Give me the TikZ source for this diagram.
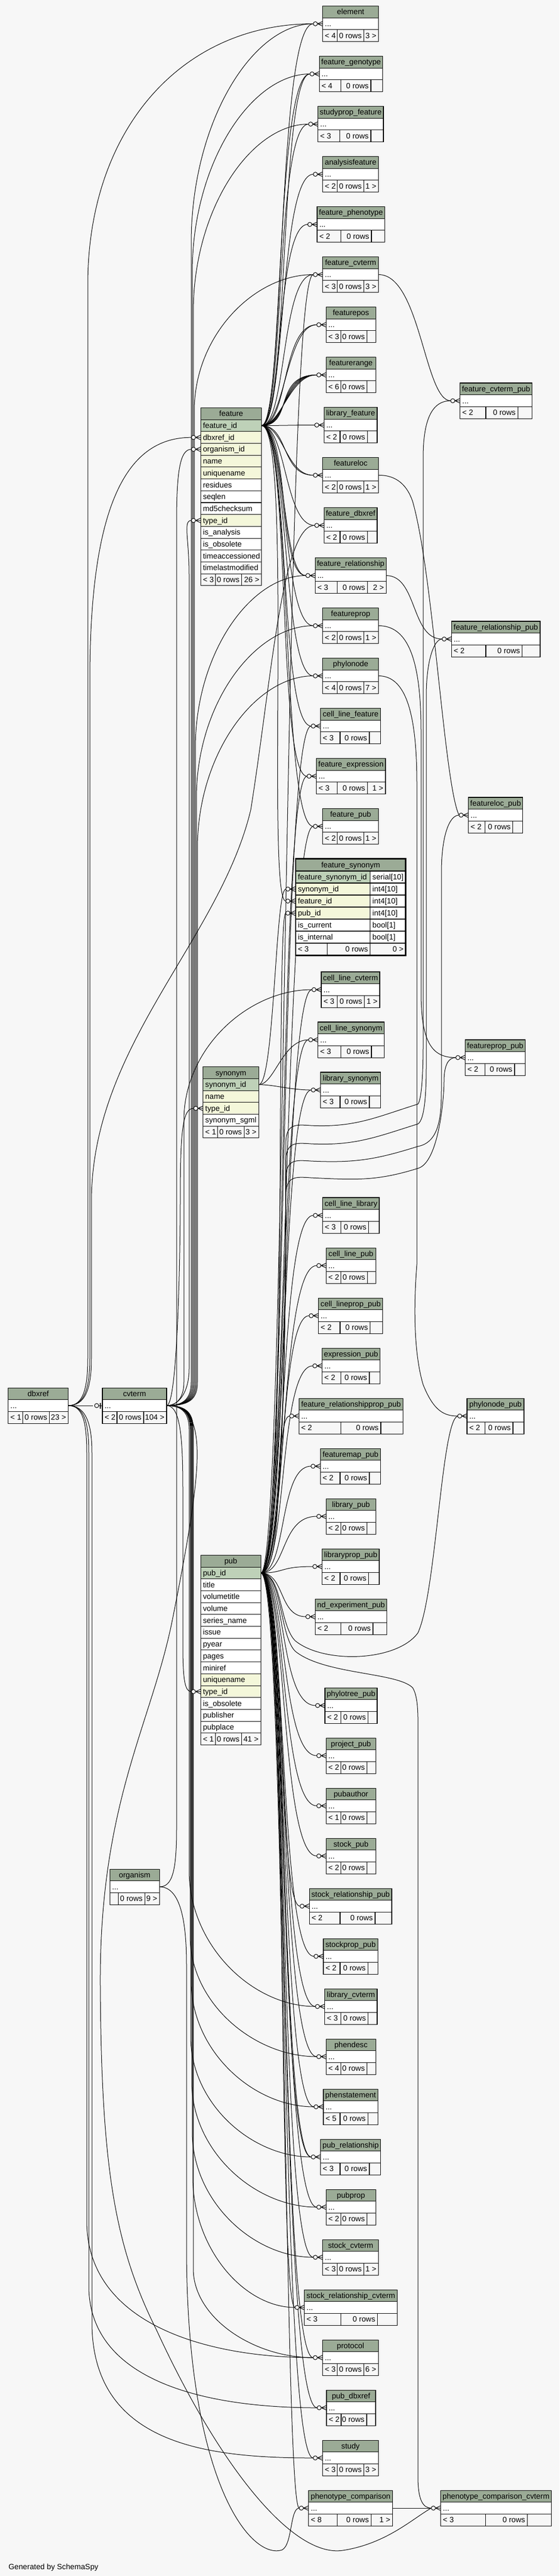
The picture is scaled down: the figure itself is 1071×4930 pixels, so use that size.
\documentclass[tikz,border=0pt]{standalone}
\usepackage{fontspec}
\setmainfont{Liberation Sans}
\pgfdeclarelayer{back}
\pgfdeclarelayer{edges}
\pgfsetlayers{back,edges,main}
\definecolor{bg}{HTML}{F7F7F7}
\definecolor{hdr}{HTML}{9BAB96}
\definecolor{pkc}{HTML}{BED1B8}
\definecolor{fkc}{HTML}{F4F7DA}
\tikzset{
  lnk/.style={draw=black,line width=0.75pt},
  cel/.style={draw=black,line width=0.8pt},
  txt/.style={inner sep=0pt,font=\fontsize{11}{13}\selectfont,anchor=base west},
}
% crow's foot with circle, box edge at x=#1, row centre y=#2
\newcommand{\crow}[2]{%
  \draw[lnk] (#1-10,#2) -- (#1,#2-4.5) (#1-10,#2) -- (#1,#2) (#1-10,#2) -- (#1,#2+4.5);
  \draw[lnk,fill=bg] (#1-14,#2) circle[radius=4];}
% small table: id, x1, x2, ytop, title, split1, split2, left footer, right footer
\newcommand{\tbl}[9]{%
  \fill[hdr] (#2,#4) rectangle (#3,#4+22.7);
  \fill[white] (#2,#4+22.7) rectangle (#3,#4+45.4);
  \fill[bg] (#2,#4+45.4) rectangle (#3,#4+68.1);
  \draw[cel] (#2,#4) rectangle (#3,#4+68.1);
  \draw[cel] (#2,#4+22.7) -- (#3,#4+22.7) (#2,#4+45.4) -- (#3,#4+45.4)
    (#6,#4+45.4) -- (#6,#4+68.1) (#7,#4+45.4) -- (#7,#4+68.1);
  \node[txt,anchor=base] (#1-h) at ({(#2+#3)/2},#4+16.4) {#5};
  \node[txt] (#1-b) at (#2+4,#4+39.1) {...};
  \node[txt] (#1-f1) at (#2+4,#4+61.8) {#8};
  \node[txt,anchor=base east] (#1-f2) at (#7-4,#4+61.8) {0 rows};
  \node[txt,anchor=base east] (#1-f3) at (#3-4,#4+61.8) {#9};
  \coordinate (#1-in) at (#2-18,#4+34);
  \coordinate (#1-out) at (#3,#4+34);}
\newcommand{\tblc}[9]{\tbl{#1}{#2}{#3}{#4}{#5}{#6}{#7}{#8}{#9}\crow{#2}{#4+34}}
% rows of the large tables
\newcommand{\hd}[5]{\fill[hdr] (#2,#4) rectangle (#3,#4+22.7);
  \draw[cel] (#2,#4) rectangle (#3,#4+22.7);
  \node[txt,anchor=base] (#1-h) at ({(#2+#3)/2},#4+16.4) {#5};}
\newcommand{\rw}[6]{\fill[#5] (#2,#4) rectangle (#3,#4+22.7);
  \draw[cel] (#2,#4) rectangle (#3,#4+22.7);
  \node[txt] (#1) at (#2+4,#4+16.4) {#6};}
\newcommand{\ftr}[8]{\fill[bg] (#2,#6) rectangle (#5,#6+22.7);
  \draw[cel] (#2,#6) rectangle (#5,#6+22.7) (#3,#6) -- (#3,#6+22.7) (#4,#6) -- (#4,#6+22.7);
  \node[txt] (#1-f1) at (#2+4,#6+16.4) {#7};
  \node[txt,anchor=base east] (#1-f2) at (#4-4,#6+16.4) {0 rows};
  \node[txt,anchor=base east] (#1-f3) at (#5-4,#6+16.4) {#8};}
\newcommand{\fsrow}[5]{\fill[#3] (566,#2) rectangle (708.7,#2+23);
  \fill[white] (708.7,#2) rectangle (776.7,#2+23);
  \draw[cel] (566,#2) rectangle (776.7,#2+23) (708.7,#2) -- (708.7,#2+23);
  \node[txt] (#1) at (570,#2+16.6) {#4};
  \node[txt] (#1-t) at (712.7,#2+16.6) {#5};}
% connectors
\newcommand{\lk}[4]{\draw[lnk] (#1) .. controls +(#3,0) and +(-#4,0) .. (#2);}
\newcommand{\cvup}[5]{\draw[lnk] (cvterm-out) .. controls (#4-18,2690) and (#4,2680) .. (#4,2645) -- (#4,#2+#5) .. controls (#4,#2+0.45*#5) and ({(#4+#3)/2},#2) .. (#1);}
\newcommand{\cvdn}[5]{\draw[lnk] (cvterm-out) .. controls (#4-18,2690) and (#4,2700) .. (#4,2735) -- (#4,#2-#5) .. controls (#4,#2-0.45*#5) and ({(#4+#3)/2},#2) .. (#1);}
\newcommand{\pwave}[5]{\draw[lnk] (pub-out) .. controls (546,3010.4) and (547,2450) .. (547,#2) .. controls (547,#2-40) and (565,#2-38) .. (595,#2-36) .. controls (680,#2-32) and (720,#3+25) .. (800,#3) .. controls (#4-3,#3-8) and (#4,#3-60) .. (#4,#3-110) -- (#4,#5+110) .. controls (#4,#5+40) and (#4+15,#5) .. (#1);}

\begin{document}
\begin{tikzpicture}[x=0.75pt,y=-0.75pt]
\useasboundingbox (0,0) rectangle (1071,4930);
\begin{pgfonlayer}{back}
\fill[bg] (0,0) rectangle (1071,4930);
\end{pgfonlayer}

% ---------- column of child tables ----------
\tblc{element}{617.7}{724.7}{11.5}{element}{645.7}{696.7}{< 4}{3 >}
\tblc{fgeno}{611.3}{732.7}{107.5}{feature\_genotype}{652.7}{710}{< 4}{}
\tblc{spf}{608.7}{734}{203.5}{studyprop\_feature}{650.7}{710}{< 3}{}
\tblc{af}{617.7}{724.7}{299.5}{analysisfeature}{645.7}{696.7}{< 2}{1 >}
\tblc{fph}{607}{736.7}{395.5}{feature\_phenotype}{652.7}{711}{< 2}{}
\tblc{fcv}{617.7}{724.7}{491.5}{feature\_cvterm}{645.7}{696.7}{< 3}{3 >}
\tblc{fpos}{624.3}{719.3}{587.5}{featurepos}{652.7}{702.7}{< 3}{}
\tblc{frange}{624.3}{719.3}{683.5}{featurerange}{652.7}{702.7}{< 6}{}
\tblc{libf}{620.3}{722}{779.5}{library\_feature}{651}{703.3}{< 2}{}
\tblc{floc}{617.7}{724.7}{875.5}{featureloc}{645.7}{696.7}{< 2}{1 >}
\tblc{fdbx}{620.3}{722}{971.5}{feature\_dbxref}{651}{703.3}{< 2}{}
\tblc{frel}{603.3}{739.3}{1067.5}{feature\_relationship}{645.7}{703.3}{< 3}{2 >}
\tblc{fprop}{617.7}{724.7}{1163.5}{featureprop}{645.7}{696.7}{< 2}{1 >}
\tblc{pnode}{617.7}{724.7}{1259.5}{phylonode}{645.7}{696.7}{< 4}{7 >}
\tblc{clf}{613.7}{728.7}{1355.5}{cell\_line\_feature}{651}{707}{< 3}{}
\tblc{fexp}{605.7}{738}{1451.5}{feature\_expression}{645.7}{703.3}{< 3}{1 >}
\tblc{fpub}{617.7}{724.7}{1547.5}{feature\_pub}{645.7}{696.7}{< 2}{1 >}
\tblc{clcv}{615}{727}{1860}{cell\_line\_cvterm}{645.7}{697.7}{< 3}{1 >}
\tblc{clsyn}{608.7}{735.3}{1956}{cell\_line\_synonym}{652.7}{711}{< 3}{}
\tblc{libsyn}{613.7}{728.7}{2052}{library\_synonym}{651}{707}{< 3}{}
\tblc{cllib}{617.7}{726}{2292}{cell\_line\_library}{652.7}{705.7}{< 3}{}
\tblc{clpub}{624.3}{719.3}{2388}{cell\_line\_pub}{652.7}{703.3}{< 2}{}
\tblc{clppub}{609.7}{732.7}{2484}{cell\_lineprop\_pub}{651}{708.7}{< 2}{}
\tblc{exppub}{616.7}{727.3}{2580}{expression\_pub}{652.7}{707}{< 2}{}
\tblc{frppub}{572.3}{771.7}{2676}{feature\_relationshipprop\_pub}{652.7}{729}{< 2}{}
\tblc{fmpub}{613.3}{728.7}{2772}{featuremap\_pub}{651}{707}{< 2}{}
\tblc{libpub}{624.3}{719.3}{2868}{library\_pub}{652.7}{702.7}{< 2}{}
\tblc{libppub}{616.7}{726}{2964}{libraryprop\_pub}{651}{705.7}{< 2}{}
\tblc{ndpub}{603.3}{740.7}{3060}{nd\_experiment\_pub}{652.7}{714}{< 2}{}
\tblc{ptpub}{622}{722}{3230}{phylotree\_pub}{652.7}{704.7}{< 2}{}
\tblc{prjpub}{624.3}{719.3}{3326}{project\_pub}{652.7}{702.7}{< 2}{}
\tblc{pauth}{624.3}{719.3}{3422}{pubauthor}{652.7}{702.7}{< 1}{}
\tblc{stpub}{624.3}{719.3}{3518}{stock\_pub}{652.7}{702.7}{< 2}{}
\tblc{strpub}{592.3}{750}{3614}{stock\_relationship\_pub}{651}{718}{< 2}{}
\tblc{stppub}{619}{723.3}{3710}{stockprop\_pub}{651}{704.3}{< 2}{}
\tblc{libcv}{621.7}{722}{3806}{library\_cvterm}{652.7}{704.7}{< 3}{}
\tblc{phd}{624.3}{719.3}{3902}{phendesc}{652.7}{702.7}{< 4}{}
\tblc{phs}{619}{723.3}{3998}{phenstatement}{651}{704.3}{< 5}{}
\tblc{prel}{613.7}{728.7}{4094}{pub\_relationship}{651}{707}{< 3}{}
\tblc{pprop}{624.3}{719.3}{4190}{pubprop}{652.7}{702.7}{< 2}{}
\tblc{stcv}{617.7}{724.7}{4286}{stock\_cvterm}{645.7}{696.7}{< 3}{1 >}
\tblc{strcv}{582.7}{760.7}{4382}{stock\_relationship\_cvterm}{652.3}{722.7}{< 3}{}
\tblc{proto}{617.5}{724.5}{4478}{protocol}{645.5}{696.7}{< 3}{6 >}
\tblc{pdbx}{625}{719}{4574}{pub\_dbxref}{653}{702}{< 2}{}
\tblc{study}{617.5}{724.5}{4670}{study}{645.5}{696.7}{< 3}{3 >}
\tblc{pcmp}{590.8}{751.4}{4766}{phenotype\_comparison}{645.5}{710.4}{< 8}{1 >}
% ---------- right column ----------
\tblc{pcc}{843.6}{1055.3}{4766}{phenotype\_comparison\_cvterm}{929.6}{1009.6}{< 3}{}
\tblc{fcvpub}{880.7}{1018.3}{733}{feature\_cvterm\_pub}{930}{991.3}{< 2}{}
\tblc{frelpub}{864.3}{1034}{1189}{feature\_relationship\_pub}{930}{999.7}{< 2}{}
\tblc{flocpub}{896.7}{1000.7}{1526}{featureloc\_pub}{928.3}{981.7}{< 2}{}
\tblc{fproppub}{890.5}{1005.5}{1990}{featureprop\_pub}{928.3}{985}{< 2}{}
\tblc{pnpub}{894}{1003}{2676}{phylonode\_pub}{928.3}{982}{< 2}{}
% ---------- left tables ----------
\tbl{dbxref}{15.7}{130.7}{2656}{dbxref}{43.7}{94.7}{< 1}{23 >}
\tbl{cvterm}{196}{319}{2656}{cvterm}{224}{275}{< 2}{104 >}
\tbl{organism}{210.3}{305.3}{3577}{organism}{226.7}{277.3}{}{9 >}
\draw[lnk] (189,2690) -- (196,2690);
\draw[lnk,line width=1.8pt] (192,2684.5) -- (192,2695.5);
\draw[lnk,fill=bg] (185,2690) circle[radius=4];

% ---------- feature ----------
\hd{feature}{384.3}{500.7}{780.4}{feature}
\rw{feature-r1}{384.3}{500.7}{803.1}{pkc}{feature\_id}
\rw{feature-r2}{384.3}{500.7}{825.8}{fkc}{dbxref\_id}
\rw{feature-r3}{384.3}{500.7}{848.5}{fkc}{organism\_id}
\rw{feature-r4}{384.3}{500.7}{871.2}{fkc}{name}
\rw{feature-r5}{384.3}{500.7}{893.9}{fkc}{uniquename}
\rw{feature-r6}{384.3}{500.7}{916.6}{white}{residues}
\rw{feature-r7}{384.3}{500.7}{939.3}{white}{seqlen}
\rw{feature-r8}{384.3}{500.7}{962}{white}{md5checksum}
\rw{feature-r9}{384.3}{500.7}{984.7}{fkc}{type\_id}
\rw{feature-r10}{384.3}{500.7}{1007.4}{white}{is\_analysis}
\rw{feature-r11}{384.3}{500.7}{1030.1}{white}{is\_obsolete}
\rw{feature-r12}{384.3}{500.7}{1052.8}{white}{timeaccessioned}
\rw{feature-r13}{384.3}{500.7}{1075.5}{white}{timelastmodified}
\ftr{feature}{384.3}{412.7}{462.7}{500.7}{1098.2}{< 3}{26 >}
\coordinate (feature-out) at (500.7,814.45);
\coordinate (feature-dbin) at (366.3,837.15);
\coordinate (feature-orgin) at (366.3,859.85);
\coordinate (feature-typin) at (366.3,996.05);
\crow{384.3}{837.15}\crow{384.3}{859.85}\crow{384.3}{996.05}

% ---------- synonym ----------
\hd{synonym}{388.7}{495.3}{2041.7}{synonym}
\rw{synonym-r1}{388.7}{495.3}{2064.4}{pkc}{synonym\_id}
\rw{synonym-r2}{388.7}{495.3}{2087.1}{fkc}{name}
\rw{synonym-r3}{388.7}{495.3}{2109.8}{fkc}{type\_id}
\rw{synonym-r4}{388.7}{495.3}{2132.5}{white}{synonym\_sgml}
\ftr{synonym}{388.7}{416.7}{467.3}{495.3}{2155.2}{< 1}{3 >}
\coordinate (synonym-out) at (495.3,2075.75);
\coordinate (synonym-typin) at (370.7,2121.15);
\crow{388.7}{2121.15}

% ---------- pub ----------
\hd{pub}{384.3}{499.3}{2976.3}{pub}
\rw{pub-r1}{384.3}{499.3}{2999}{pkc}{pub\_id}
\rw{pub-r2}{384.3}{499.3}{3021.7}{white}{title}
\rw{pub-r3}{384.3}{499.3}{3044.4}{white}{volumetitle}
\rw{pub-r4}{384.3}{499.3}{3067.1}{white}{volume}
\rw{pub-r5}{384.3}{499.3}{3089.8}{white}{series\_name}
\rw{pub-r6}{384.3}{499.3}{3112.5}{white}{issue}
\rw{pub-r7}{384.3}{499.3}{3135.2}{white}{pyear}
\rw{pub-r8}{384.3}{499.3}{3157.9}{white}{pages}
\rw{pub-r9}{384.3}{499.3}{3180.6}{white}{miniref}
\rw{pub-r10}{384.3}{499.3}{3203.3}{fkc}{uniquename}
\rw{pub-r11}{384.3}{499.3}{3226}{fkc}{type\_id}
\rw{pub-r12}{384.3}{499.3}{3248.7}{white}{is\_obsolete}
\rw{pub-r13}{384.3}{499.3}{3271.4}{white}{publisher}
\rw{pub-r14}{384.3}{499.3}{3294.1}{white}{pubplace}
\ftr{pub}{384.3}{412.7}{462.7}{499.3}{3316.8}{< 1}{41 >}
\coordinate (pub-out) at (499.3,3010.35);
\coordinate (pub-typin) at (366.3,3237.35);
\crow{384.3}{3237.35}

% ---------- feature_synonym ----------
\fill[hdr] (566,1644) rectangle (776.7,1667);
\draw[cel] (566,1644) rectangle (776.7,1667);
\node[txt,anchor=base] (fsyn-h) at (671.35,1660.5) {feature\_synonym};
\fsrow{fsyn-r1}{1667}{pkc}{feature\_synonym\_id}{serial[10]}
\fsrow{fsyn-r2}{1690}{fkc}{synonym\_id}{int4[10]}
\fsrow{fsyn-r3}{1713}{fkc}{feature\_id}{int4[10]}
\fsrow{fsyn-r4}{1736}{fkc}{pub\_id}{int4[10]}
\fsrow{fsyn-r5}{1759}{white}{is\_current}{bool[1]}
\fsrow{fsyn-r6}{1782}{white}{is\_internal}{bool[1]}
\fill[bg] (566,1805) rectangle (776.7,1828);
\draw[cel] (566,1805) rectangle (776.7,1828) (626.7,1805) -- (626.7,1828) (708.7,1805) -- (708.7,1828);
\node[txt] (fsyn-f1) at (570,1821.6) {< 3};
\node[txt,anchor=base east] (fsyn-f2) at (704.7,1821.6) {0 rows};
\node[txt,anchor=base east] (fsyn-f3) at (772.7,1821.6) {0 >};
\draw[line width=2.2pt] (566,1643) rectangle (776.7,1829);
\coordinate (fsyn-synin) at (547,1701.5);
\coordinate (fsyn-fin) at (547,1724.5);
\coordinate (fsyn-pin) at (547,1747.5);
\crow{565}{1701.5}\crow{565}{1724.5}\crow{565}{1747.5}

\node[txt] (gen) at (16,4917) {Generated by SchemaSpy};

% ================= connectors =================
\begin{pgfonlayer}{edges}
% feature
\lk{feature-out}{element-in}{45}{70}
\lk{feature-out}{fgeno-in}{42}{66}
\lk{feature-out}{fgeno-in}{52}{58}
\lk{feature-out}{spf-in}{44}{64}
\lk{feature-out}{af-in}{46}{66}
\lk{feature-out}{fph-in}{40}{60}
\lk{feature-out}{fcv-in}{48}{62}
\lk{feature-out}{fpos-in}{44}{58}
\lk{feature-out}{fpos-in}{52}{68}
\lk{feature-out}{frange-in}{38}{52}
\lk{feature-out}{frange-in}{44}{60}
\lk{feature-out}{frange-in}{50}{68}
\lk{feature-out}{frange-in}{56}{76}
\lk{feature-out}{frange-in}{62}{84}
\lk{feature-out}{libf-in}{40}{40}
\lk{feature-out}{floc-in}{42}{52}
\lk{feature-out}{floc-in}{52}{62}
\lk{feature-out}{fdbx-in}{48}{58}
\lk{feature-out}{frel-in}{46}{46}
\lk{feature-out}{frel-in}{54}{54}
\lk{feature-out}{fprop-in}{50}{60}
\lk{feature-out}{pnode-in}{52}{60}
\lk{feature-out}{clf-in}{54}{62}
\lk{feature-out}{fexp-in}{56}{58}
\lk{feature-out}{fpub-in}{58}{62}
\lk{feature-out}{fsyn-fin}{60}{38}
% pub
\lk{pub-out}{fcv-in}{50}{58}
\lk{pub-out}{clf-in}{50}{60}
\lk{pub-out}{fexp-in}{48}{56}
\lk{pub-out}{fpub-in}{50}{56}
\lk{pub-out}{fsyn-pin}{52}{20}
\lk{pub-out}{clcv-in}{50}{54}
\lk{pub-out}{clsyn-in}{48}{56}
\lk{pub-out}{libsyn-in}{50}{60}
\lk{pub-out}{cllib-in}{50}{68}
\lk{pub-out}{clpub-in}{50}{72}
\lk{pub-out}{clppub-in}{48}{60}
\lk{pub-out}{exppub-in}{50}{66}
\lk{pub-out}{frppub-in}{46}{30}
\lk{pub-out}{fmpub-in}{50}{62}
\lk{pub-out}{libpub-in}{50}{70}
\lk{pub-out}{libppub-in}{46}{64}
\lk{pub-out}{ndpub-in}{46}{52}
\lk{pub-out}{ptpub-in}{50}{70}
\lk{pub-out}{prjpub-in}{50}{70}
\lk{pub-out}{pauth-in}{50}{70}
\lk{pub-out}{stpub-in}{50}{70}
\lk{pub-out}{strpub-in}{50}{44}
\lk{pub-out}{stppub-in}{50}{68}
\lk{pub-out}{libcv-in}{50}{70}
\lk{pub-out}{phd-in}{50}{72}
\lk{pub-out}{phs-in}{50}{66}
\lk{pub-out}{prel-in}{50}{60}
\lk{pub-out}{prel-in}{56}{66}
\lk{pub-out}{pprop-in}{50}{72}
\lk{pub-out}{stcv-in}{52}{68}
\lk{pub-out}{strcv-in}{52}{34}
\lk{pub-out}{proto-in}{52}{66}
\lk{pub-out}{pdbx-in}{52}{74}
\lk{pub-out}{study-in}{52}{66}
\lk{pub-out}{pcmp-in}{48}{30}
\pwave{fcvpub-in}{2190}{2113}{810}{767}
\pwave{frelpub-in}{2225}{2151}{816}{1223}
\pwave{flocpub-in}{2258}{2194}{845}{1560}
\draw[lnk] (pub-out) .. controls (546,3010.4) and (547,2450) .. (547,2290) .. controls (547,2250) and (565,2252) .. (595,2254) .. controls (680,2258) and (720,2261) .. (800,2236) .. controls (840,2225) and (850,2100) .. (850,2070) .. controls (850,2035) and (860,2024) .. (fproppub-in);
\draw[lnk] (pub-out) .. controls (540,3010.4) and (535,3110) .. (565,3140) .. controls (620,3185) and (760,3180) .. (800,3125) .. controls (835,3050) and (845,2720) .. (pnpub-in);
\draw[lnk] (pub-out) .. controls (540,3010.4) and (535,3130) .. (565,3160) .. controls (620,3205) and (760,3200) .. (790,3230) .. controls (802,3250) and (800,3290) .. (800,3330) -- (800,4740) .. controls (800,4785) and (810,4800) .. (pcc-in);
% synonym
\lk{synonym-out}{fsyn-synin}{30}{20}
\lk{synonym-out}{clsyn-in}{30}{50}
\lk{synonym-out}{libsyn-in}{30}{40}
% cvterm
\cvup{element-in}{45.5}{599.7}{366}{420}
\cvup{fgeno-in}{141.5}{593.3}{368}{380}
\cvup{spf-in}{237.5}{590.7}{370}{360}
\cvup{fcv-in}{525.5}{599.7}{372}{260}
\cvup{frel-in}{1101.5}{585.3}{374}{330}
\cvup{fprop-in}{1197.5}{599.7}{376}{330}
\cvup{pnode-in}{1293.5}{599.7}{378}{330}
\cvup{clcv-in}{1894}{597}{352}{250}
\cvdn{libcv-in}{3840}{603.7}{362}{260}
\cvdn{phd-in}{3936}{606.3}{364}{230}
\cvdn{phs-in}{4032}{601}{366}{240}
\cvdn{prel-in}{4128}{595.7}{365}{230}
\cvdn{pprop-in}{4224}{606.3}{367}{240}
\cvdn{stcv-in}{4320}{599.7}{368}{240}
\cvdn{strcv-in}{4416}{564.7}{369}{250}
\cvdn{proto-in}{4512}{599.5}{370}{170}
\draw[lnk] (cvterm-out) .. controls (345,2690) and (362,2660) .. (362,2620) -- (362,1100) .. controls (362,1030) and (350,996.05) .. (feature-typin);
\draw[lnk] (cvterm-out) .. controls (340,2690) and (345,2400) .. (345,2300) .. controls (345,2160) and (350,2121.15) .. (synonym-typin);
\draw[lnk] (cvterm-out) .. controls (345,2690) and (350,2750) .. (350,2850) -- (350,3150) .. controls (350,3220) and (355,3237.35) .. (pub-typin);
\draw[lnk] (cvterm-out) .. controls (400,2690) and (390,2800) .. (330,3100) .. controls (290,3300) and (190,3450) .. (192,3800) .. controls (194,4150) and (220,4300) .. (300,4460) .. controls (420,4720) and (560,4895) .. (656,4881) .. controls (740,4868) and (790,4820) .. (pcc-in);
% dbxref
\draw[lnk] (dbxref-out) -- (cvterm-in);
\draw[lnk] (dbxref-out) .. controls (160,2690) and (172,2660) .. (172,2600) -- (172,1300) .. controls (172,950) and (250,837.15) .. (feature-dbin);
\draw[lnk] (dbxref-out) .. controls (158,2690) and (168,2660) .. (168,2600) -- (168,545) .. controls (168,245) and (350,45.5) .. (element-in);
\draw[lnk] (dbxref-out) .. controls (162,2690) and (175,2660) .. (175,2600) -- (175,2300) .. controls (175,2000) and (420,1800) .. (480,1550) .. controls (520,1300) and (540,1005.5) .. (fdbx-in);
\draw[lnk] (dbxref-out) .. controls (158,2690) and (166,2720) .. (166,2780) -- (166,4250) .. controls (166,4450) and (400,4512) .. (proto-in);
\draw[lnk] (dbxref-out) .. controls (160,2690) and (170,2720) .. (170,2780) -- (170,4380) .. controls (175,4560) and (400,4608) .. (pdbx-in);
\draw[lnk] (dbxref-out) .. controls (162,2690) and (176,2720) .. (176,2780) -- (176,4450) .. controls (180,4680) and (400,4704) .. (study-in);
% organism
\draw[lnk] (organism-out) .. controls (330,3611) and (338,3580) .. (338,3500) -- (338,1000) .. controls (338,900) and (345,859.85) .. (feature-orgin);
\draw[lnk] (organism-out) .. controls (340,3611) and (357,3660) .. (357,3760) -- (357,4300) .. controls (357,4750) and (480,4900) .. (540,4880) .. controls (560,4870) and (555,4800) .. (pcmp-in);
% second-level children
\lk{fcv-out}{fcvpub-in}{80}{50}
\draw[lnk] (floc-out) .. controls (760,909) and (780,930) .. (790,960) .. controls (830,1100) and (850,1500) .. (flocpub-in);
\lk{frel-out}{frelpub-in}{60}{60}
\draw[lnk] (fprop-out) .. controls (780,1197.5) and (806,1260) .. (806,1400) -- (806,1900) .. controls (806,2000) and (830,2024) .. (fproppub-in);
\draw[lnk] (pnode-out) .. controls (775,1293.5) and (798,1360) .. (798,1500) -- (798,2420) .. controls (790,2520) and (795,2600) .. (810,2650) .. controls (830,2700) and (850,2710) .. (pnpub-in);
\draw[lnk] (pcmp-out) -- (pcc-in);
\end{pgfonlayer}
\end{tikzpicture}
\end{document}
